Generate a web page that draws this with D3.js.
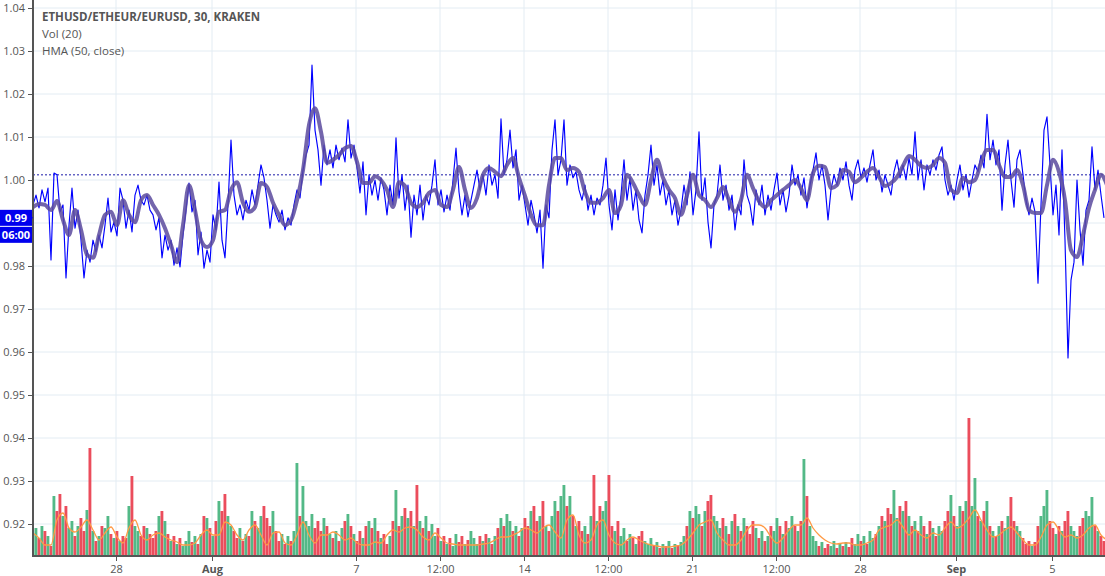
<!DOCTYPE html>
<html><head><meta charset="utf-8">
<script src="https://cdn.jsdelivr.net/npm/d3@7"></script>
<style>
body{margin:0;background:#fff;}
svg{display:block;font-family:"Open Sans",sans-serif;}
</style>
</head><body>
<svg id="chart" width="1105" height="576"></svg>
<script>
// ---------- DATA ----------
const startTime = "2017-07-24T13:00:00Z";
const endTime = "2017-09-07T05:00:00Z";
const priceStepHours = 3;
const closePrices = [
0.9942,0.9965,0.9935,0.9977,0.9949,0.9981,0.9814,1.0016,
1.0012,0.9926,0.9942,0.9772,0.9895,0.9981,0.9888,0.9930,
0.9860,0.9772,0.9837,0.9809,0.9860,0.9833,0.9872,0.9842,
0.9895,0.9958,0.9879,0.9902,0.9870,0.9981,0.9953,0.9888,
0.9930,0.9879,0.9965,0.9988,0.9953,0.9942,0.9965,0.9930,
0.9919,0.9884,0.9912,0.9819,0.9872,0.9837,0.9860,0.9802,
0.9842,0.9798,0.9872,0.9930,0.9993,0.9926,0.9953,0.9826,
0.9879,0.9795,0.9837,0.9809,0.9919,0.9884,0.9995,0.9860,
0.9819,0.9942,1.0093,0.9965,0.9919,0.9942,0.9907,0.9953,
0.9930,0.9977,0.9942,0.9988,1.0035,1.0005,0.9953,0.9888,
0.9942,0.9919,0.9902,0.9930,0.9884,0.9912,0.9895,0.9942,
0.9977,0.9958,1.0023,1.0058,1.0081,1.0267,1.0116,1.0070,
0.9988,1.0081,1.0035,1.0070,1.0028,1.0081,1.0047,1.0074,
1.0042,1.0140,1.0051,1.0081,1.0028,0.9970,1.0042,0.9919,
1.0012,0.9965,1.0000,0.9953,1.0005,0.9977,0.9919,0.9988,
0.9942,1.0098,0.9958,1.0012,0.9930,0.9988,0.9867,0.9965,
0.9919,0.9988,0.9907,0.9965,0.9942,0.9988,1.0047,0.9942,
0.9977,0.9926,0.9965,0.9930,1.0000,1.0074,0.9972,0.9919,
0.9965,0.9914,0.9953,0.9988,1.0023,0.9977,1.0012,0.9965,
1.0035,0.9988,1.0012,0.9958,1.0142,1.0012,1.0047,1.0116,
1.0028,1.0070,0.9953,0.9988,0.9942,0.9895,0.9953,0.9919,
0.9877,0.9930,0.9795,0.9942,0.9912,1.0070,1.0140,1.0012,
1.0047,1.0140,0.9988,1.0035,1.0005,1.0019,0.9977,0.9953,
0.9988,0.9930,0.9965,0.9919,0.9958,0.9942,0.9988,1.0051,
0.9942,0.9884,0.9977,0.9907,0.9965,1.0047,0.9953,1.0005,
0.9930,0.9977,0.9907,0.9877,0.9965,1.0012,1.0081,0.9988,
1.0035,0.9965,1.0000,0.9942,0.9977,0.9919,0.9953,0.9895,
0.9930,0.9988,0.9942,1.0019,0.9919,0.9977,1.0112,0.9953,
1.0005,0.9902,0.9842,0.9942,0.9965,1.0035,0.9953,0.9988,
0.9930,0.9965,0.9884,0.9942,0.9919,1.0047,0.9965,0.9942,
0.9895,0.9977,0.9942,0.9988,0.9919,0.9965,0.9930,0.9977,
1.0016,0.9942,0.9977,0.9926,0.9965,1.0035,0.9988,1.0012,
0.9965,1.0005,0.9935,0.9988,1.0023,1.0063,1.0000,1.0035,
0.9988,0.9907,0.9977,1.0012,0.9988,1.0028,1.0000,1.0042,
0.9988,0.9953,1.0023,1.0047,1.0005,1.0028,0.9995,1.0035,
1.0070,1.0000,1.0023,0.9972,1.0012,0.9988,0.9965,1.0019,
1.0047,1.0005,1.0035,1.0000,1.0051,1.0012,1.0112,1.0000,
1.0047,0.9977,1.0035,1.0012,1.0047,1.0023,1.0058,1.0077,
1.0000,0.9965,0.9988,0.9953,1.0000,1.0035,0.9977,1.0012,
0.9960,1.0000,1.0035,1.0019,1.0058,1.0028,1.0153,1.0047,
1.0093,1.0035,1.0070,0.9930,1.0035,1.0093,1.0000,0.9937,
1.0047,1.0070,1.0012,0.9953,0.9919,0.9958,0.9926,0.9760,
0.9942,1.0116,1.0147,1.0035,0.9919,0.9988,0.9872,1.0070,
0.9860,0.9586,0.9767,0.9809,1.0000,0.9884,0.9802,0.9930,
0.9953,1.0077,0.9977,1.0023,0.9965,0.9912
];
const volumes = [
22,28,18,30,25,20,10,60, 45,62,40,50,28,35,20,30,
38,25,46,108,25,15,20,30, 28,40,22,18,25,15,20,18,
50,80,30,25,20,30,28,22, 18,25,40,45,35,22,15,20,
12,18,10,15,25,14,20,12, 22,40,38,28,20,35,55,45,
62,40,30,25,18,28,15,22, 20,45,35,28,40,50,38,30,
45,25,15,22,12,20,15,25, 93,40,70,35,30,42,28,35,
25,38,30,22,18,25,15,28, 35,42,30,22,15,25,18,30,
35,28,38,25,18,22,12,20, 35,66,30,40,48,38,45,30,
71,35,28,40,25,32,20,28, 15,20,12,18,10,22,14,20,
12,16,25,18,12,20,15,22, 18,12,20,28,38,30,42,35,
25,30,20,28,38,30,45,50, 35,40,55,30,25,40,55,45,
60,71,50,60,40,30,35,25, 30,22,40,81,35,50,45,55,
81,30,25,35,20,28,15,22, 18,12,20,25,15,12,18,10,
14,8,12,10,15,8,12,10, 14,20,30,45,38,50,42,30,
45,55,61,40,35,28,38,30, 22,35,42,30,25,38,30,22,
35,28,18,25,15,20,30,25, 38,30,22,35,28,40,30,25,
35,97,60,30,20,15,10,14, 8,12,10,15,8,12,10,14,
9,18,12,22,15,20,12,25, 18,22,30,40,35,48,42,66,
38,50,45,55,40,30,35,25, 40,30,22,35,28,20,30,25,
35,45,61,40,30,50,45,55, 138,50,78,40,35,45,55,30,
25,20,30,35,28,40,59,35, 30,25,18,12,15,10,14,30,
40,50,66,35,28,22,30,25, 35,45,30,25,20,30,38,45,
40,59,30,25,20,15
];
const indicatorStepHours = 6;
const hmaValues = [
0.9937,0.9944,0.9942,0.9930,0.9951,0.9907,0.9872,0.9930,0.9884,0.9826,
0.9819,0.9872,0.9919,0.9926,0.9895,0.9953,0.9919,0.9902,0.9953,0.9965,
0.9942,0.9919,0.9888,0.9849,0.9809,0.9895,0.9988,0.9930,0.9860,0.9844,
0.9860,0.9926,0.9930,0.9977,0.9995,0.9947,0.9926,0.9937,0.9993,0.9984,
0.9947,0.9919,0.9895,0.9907,0.9953,1.0023,1.0128,1.0167,1.0112,1.0040,
1.0047,1.0058,1.0074,1.0079,1.0042,0.9993,0.9993,1.0009,1.0000,0.9977,
0.9937,0.9995,0.9986,0.9947,0.9937,0.9947,0.9970,0.9977,0.9942,0.9937,
0.9977,1.0030,0.9977,0.9935,0.9958,1.0012,1.0028,1.0019,1.0009,1.0035,
1.0051,1.0005,0.9963,0.9919,0.9895,0.9895,0.9988,1.0051,1.0051,1.0023,
1.0028,1.0019,0.9972,0.9947,0.9947,0.9958,0.9977,0.9923,0.9942,1.0012,
0.9993,0.9965,0.9942,1.0000,1.0047,1.0005,0.9977,0.9958,0.9919,0.9965,
1.0012,0.9965,0.9953,0.9937,0.9958,0.9984,0.9953,0.9926,0.9953,1.0012,
0.9981,0.9951,0.9937,0.9953,0.9965,0.9977,0.9988,1.0000,0.9981,0.9953,
1.0016,1.0033,1.0030,0.9981,0.9988,1.0023,1.0019,0.9995,1.0005,1.0019,
1.0028,1.0007,0.9986,0.9993,1.0007,1.0033,1.0056,1.0047,1.0033,1.0028,
1.0035,1.0051,1.0040,0.9977,0.9970,1.0005,0.9995,1.0000,1.0040,1.0070,
1.0070,1.0035,1.0007,1.0007,1.0023,0.9988,0.9930,0.9923,0.9923,0.9988,
1.0047,1.0019,0.9953,0.9837,0.9821,0.9872,0.9935,0.9977,1.0012,0.9988
];
const volumeMA = [
23,18,11,11,36,43,28,24,29,36, 26,16,23,29,19,13,28,36,21,16,
21,23,19,16,14,11,11,13,21,26, 21,21,34,31,21,16,26,31,21,11,
23,24,13,11,21,34,21,13,21,21, 24,21,16,18,13,11,11,14,13,21,
26,24,28,29,26,19,16,23,18,13, 12,11,11,11,11,12,13,16,19,19,
21,24,28,26,23,28,31,24,18,36, 41,21,13,16,31,36,21,13,11,16,
19,16,13,11,10,9,9,10,11,16, 23,31,34,36,23,16,11,11,16,26,
31,31,28,19,13,18,26,31,31,38, 28,21,16,13,12,13,13,11,11,13,
16,26,29,31,36,29,21,26,21,18, 23,21,28,34,28,31,38,46,36,26,
19,21,26,29,23,16,11,11,19,31, 34,26,19,21,18,21,28,31,21,16
];
const yTickValues = [0.92,0.93,0.94,0.95,0.96,0.97,0.98,0.99,1.00,1.01,1.02,1.03,1.04];
const xTickTimes = ["2017-07-28T00:00:00Z","2017-08-01T00:00:00Z","2017-08-07T00:00:00Z","2017-08-10T12:00:00Z","2017-08-14T00:00:00Z","2017-08-17T12:00:00Z","2017-08-21T00:00:00Z","2017-08-24T12:00:00Z","2017-08-28T00:00:00Z","2017-09-01T00:00:00Z","2017-09-05T00:00:00Z"];
const xTickLabels = ["28","Aug","7","12:00","14","12:00","21","12:00","28","Sep","5"];
const boldTickLabels = ["Aug","Sep"];
const referenceLevel = 1.0012;
const lastTimeLabel = "06:00";
const legendLines = ["ETHUSD/ETHEUR/EURUSD, 30, KRAKEN","Vol (20)","HMA (50, close)"];

// ---------- CHART ----------
const W = 1105, H = 576;
const left = 33, right = 1105, bottom = 556;
const svg = d3.select("#chart");
const HOUR = 3600e3;
const t0 = new Date(startTime);
const priceData = closePrices.map((v,i)=>({t:new Date(+t0 + i*priceStepHours*HOUR), v, vol:volumes[i], up: i===0 ? true : v >= closePrices[i-1]}));
const hmaData = hmaValues.map((v,i)=>({t:new Date(+t0 + i*indicatorStepHours*HOUR), v}));
const vmaData = volumeMA.map((v,i)=>({t:new Date(+t0 + i*indicatorStepHours*HOUR), v}));

const x = d3.scaleUtc().domain([t0, new Date(endTime)]).range([left, right]);
const y = d3.scaleLinear().domain([0.92, 1.04]).range([524, 8]);
const yVol = d3.scaleLinear().domain([0, 138]).range([bottom, 418]);

svg.append("defs").append("clipPath").attr("id","plot")
  .append("rect").attr("x",left).attr("y",0).attr("width",right-left).attr("height",bottom);

// grid
const grid = svg.append("g");
grid.selectAll("line.h").data(yTickValues).join("line")
  .attr("x1",left).attr("x2",right).attr("y1",d=>y(d)).attr("y2",d=>y(d))
  .attr("stroke","#e3ecf3").attr("stroke-width",1);
grid.selectAll("line.v").data(xTickTimes).join("line")
  .attr("x1",d=>x(new Date(d))).attr("x2",d=>x(new Date(d))).attr("y1",0).attr("y2",bottom)
  .attr("stroke","#e3ecf3").attr("stroke-width",1);

const plot = svg.append("g").attr("clip-path","url(#plot)");

// volume bars
const bw = x(new Date(+t0 + priceStepHours*HOUR)) - x(t0);
plot.append("g").selectAll("rect").data(priceData).join("rect")
  .attr("x",d=>x(d.t) - bw/2).attr("width",bw-0.15)
  .attr("y",d=>yVol(d.vol)).attr("height",d=>bottom - yVol(d.vol))
  .attr("fill",d=>d.up ? "#53b987" : "#eb4d5c");

// volume MA
plot.append("path").datum(vmaData)
  .attr("d", d3.line().x(d=>x(d.t)).y(d=>yVol(d.v)).curve(d3.curveMonotoneX))
  .attr("fill","none").attr("stroke","#ff9a45").attr("stroke-width",1.3);

// reference dotted line
plot.append("line").attr("x1",left).attr("x2",right)
  .attr("y1",y(referenceLevel)).attr("y2",y(referenceLevel))
  .attr("stroke","#1a1aa8").attr("stroke-width",1).attr("stroke-dasharray","2,2");

// price line
plot.append("path").datum(priceData)
  .attr("d", d3.line().x(d=>x(d.t)).y(d=>y(d.v)))
  .attr("fill","none").attr("stroke","#0000ff").attr("stroke-width",1.15).attr("stroke-linejoin","round");

// HMA
plot.append("path").datum(hmaData)
  .attr("d", d3.line().x(d=>x(d.t)).y(d=>y(d.v)).curve(d3.curveMonotoneX))
  .attr("fill","none").attr("stroke","#5b4a9e").attr("stroke-opacity",0.85)
  .attr("stroke-width",4).attr("stroke-linejoin","round").attr("stroke-linecap","round");

// last price label position (axis labels under it are hidden, as in the reference)
const lastV = closePrices[closePrices.length-1];
const ly = y(lastV);

// axes
const axisColor = "#555";
const yAxis = svg.append("g").attr("transform",`translate(${left},0)`)
  .call(d3.axisLeft(y).tickValues(yTickValues).tickFormat(d3.format(".2f")).tickSize(5).tickPadding(3));
yAxis.select(".domain").remove();
yAxis.selectAll(".tick line").attr("stroke",axisColor);
yAxis.selectAll(".tick text").attr("fill",axisColor).style("font-size","11px").style("font-family","Open Sans, sans-serif");
yAxis.selectAll(".tick").filter(d=>Math.abs(y(d)-(ly+8)) < 22).select("text").remove();

const xAxis = svg.append("g").attr("transform",`translate(0,${bottom})`)
  .call(d3.axisBottom(x).tickValues(xTickTimes.map(d=>new Date(d))).tickFormat((d,i)=>xTickLabels[i]).tickSize(5).tickPadding(4));
xAxis.select(".domain").remove();
xAxis.selectAll(".tick line").attr("stroke",axisColor);
xAxis.selectAll(".tick text").attr("fill",axisColor).style("font-size","11px").style("font-family","Open Sans, sans-serif")
  .style("font-weight",(d,i)=>boldTickLabels.includes(xTickLabels[i]) ? "bold" : "normal");

svg.append("line").attr("x1",left).attr("x2",left).attr("y1",0).attr("y2",bottom+1)
  .attr("stroke",axisColor).attr("stroke-width",2);
svg.append("line").attr("x1",left-1).attr("x2",right).attr("y1",bottom).attr("y2",bottom)
  .attr("stroke",axisColor).attr("stroke-width",2);

// last price label
const lab = svg.append("g");
lab.append("rect").attr("x",0).attr("y",ly-8).attr("width",32).attr("height",16).attr("fill","#0000ee");
lab.append("rect").attr("x",0).attr("y",ly+9).attr("width",32).attr("height",16).attr("fill","#0000ee");
lab.append("line").attr("x1",28).attr("x2",33).attr("y1",ly).attr("y2",ly).attr("stroke","#0000ee");
lab.append("text").attr("x",16).attr("y",ly).attr("dy","0.35em").attr("text-anchor","middle")
  .attr("fill","#fff").style("font-size","11px").style("font-weight","bold").text(lastV.toFixed(2));
lab.append("text").attr("x",16).attr("y",ly+17).attr("dy","0.35em").attr("text-anchor","middle")
  .attr("fill","#fff").style("font-size","11px").style("font-weight","bold").text(lastTimeLabel);

// legend
const lg = svg.append("g");
legendLines.forEach((s,i)=>{
  lg.append("text").attr("x",42).attr("y",21 + i*17)
    .attr("fill","#555").style("font-size", "11.5px")
    .style("font-weight", i===0 ? "bold" : "normal").text(s);
});
</script>
</body></html>
